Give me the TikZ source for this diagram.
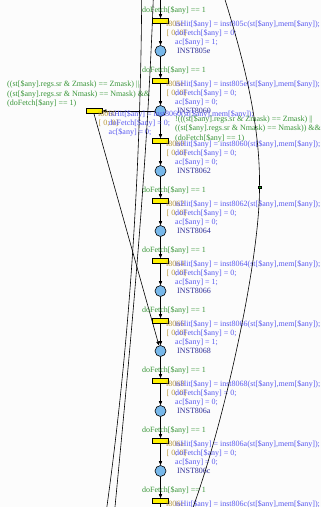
\documentclass[tikz,border=0pt]{standalone}
\usepackage{fontspec}
\setmainfont{Liberation Serif}
\usetikzlibrary{arrows.meta}
\definecolor{placefill}{HTML}{78B8EA}
\definecolor{guardgreen}{HTML}{3A963A}
\definecolor{actblue}{HTML}{5A5AF0}
\definecolor{placeblue}{HTML}{2E2E9A}
\definecolor{delaytan}{HTML}{B8983A}
\definecolor{paper}{HTML}{FCFCFC}
\begin{document}
\begin{tikzpicture}[x=1pt,y=-1pt,
  lbl/.style={inner sep=0pt, anchor=base west, font=\fontsize{8}{9.3}\selectfont},
  guard/.style={lbl, text=guardgreen},
  act/.style={lbl, text=actblue},
  delay/.style={lbl, text=delaytan},
  pname/.style={lbl, text=placeblue},
  place/.style={circle, draw, fill=placefill, minimum size=11pt, inner sep=0pt, line width=0.6pt},
  trans/.style={rectangle, draw, fill=yellow, minimum width=16pt, minimum height=5pt, inner sep=0pt, line width=0.6pt},
  arc/.style={line width=0.6pt, -{Triangle[length=4pt,width=3.2pt]}},
  wire/.style={line width=0.6pt},
  dot/.style={rectangle, draw, fill=green!70!black, minimum size=2.5pt, inner sep=0pt, line width=0.4pt}]
\useasboundingbox[fill=paper] (0,0) rectangle (321,507);

% main chain of transitions and places
\foreach \i in {0,...,8} \node[trans] (T\i) at (160.5,{21+60*\i}) {};
\foreach \i in {0,...,7} \node[place] (P\i) at (160.5,{51+60*\i}) {};
\node[trans] (TL) at (94,111) {};

% place names
\foreach \i/\n in {0/805e,1/8060,2/8062,3/8064,4/8066,5/8068,6/806a,7/806c}
  \node[pname] (N\i) at (177,{53.5+60*\i}) {INST\n};

% arcs along the chain
\coordinate (in0) at (160.5,0);
\coordinate (out8) at (160.5,512);
\draw[arc] (in0) -- (T0);
\foreach \i in {0,...,7} \draw[arc] (T\i) -- (P\i);
\foreach \i [evaluate=\i as \j using int(\i+1)] in {0,2,3,4,5,6,7} \draw[arc] (P\i) -- (T\j);
\draw[arc] (P1) -- (T2);
\draw[arc] (P1) -- (TL);
\draw[arc] (TL.south) -- (P5);
\draw[wire] (T8) -- (out8);

% plain transitions: delay, guard and actions
\foreach \i/\a/\c in {0/805c/1,1/805e/0,3/8062/0,4/8064/1,5/8066/1,6/8068/0,7/806a/0} {
  \node[delay] (d\i) at (166,{26+60*\i}) {i\a};
  \node[delay] (e\i) at (166.5,{35.3+60*\i}) {[ 0; 0]};
  \node[guard] (g\i) at (142,{12.5+60*\i}) {doFetch[\$any] == 1};
  \node[act] (a\i) at (175,{26+60*\i}) {isHit[\$any] = inst\a(st[\$any],mem[\$any]);};
  \node[act] (b\i) at (175,{35.3+60*\i}) {doFetch[\$any] = 0;};
  \node[act] (c\i) at (175,{44.6+60*\i}) {ac[\$any] = \c;};
}
\node[delay] (d8) at (166,506) {i806c};
\node[guard] (g8) at (142,492.5) {doFetch[\$any] == 1};
\node[act] (a8) at (175,506) {isHit[\$any] = inst806c(st[\$any],mem[\$any]);};

% branch taken when Z or N is set
\node[guard] (gL1) at (7,86.5) {((st[\$any].regs.sr \& Zmask) == Zmask) ||};
\node[guard] (gL2) at (7,96) {((st[\$any].regs.sr \& Nmask) == Nmask) \&\&};
\node[guard] (gL3) at (7,105.5) {(doFetch[\$any] == 1)};
\node[delay] (dL) at (98,116) {i8060};
\node[delay] (eL) at (98.5,125.3) {[ 0; 0]};
\node[act] (aL) at (108.5,116) {isHit[\$any] = inst8060(st[\$any],mem[\$any]);};
\node[act] (bL) at (108.5,125.3) {doFetch[\$any] = 0;};
\node[act] (cL) at (108.5,134.6) {ac[\$any] = 0;};

% branch taken otherwise
\node[guard] (g21) at (175,121) {!(((st[\$any].regs.sr \& Zmask) == Zmask) ||};
\node[guard] (g22) at (175,130.5) {((st[\$any].regs.sr \& Nmask) == Nmask)) \&\&};
\node[guard] (g23) at (175,140) {(doFetch[\$any] == 1)};
\node[delay] (d2) at (166,146) {i8060};
\node[delay] (e2) at (166.5,155.3) {[ 0; 0]};
\node[act] (a2) at (175,146) {isHit[\$any] = inst8060(st[\$any],mem[\$any]);};
\node[act] (b2) at (175,155.3) {doFetch[\$any] = 0;};
\node[act] (c2) at (175,164.6) {ac[\$any] = 0;};

% long arcs passing through
\coordinate (la0) at (141.7,-2);
\coordinate (la1) at (106.6,509);
\coordinate (lb0) at (153.3,-2);
\coordinate (lb1) at (114.8,509);
\draw[wire] (la0) .. controls (140.5,170) and (130,340) .. (la1);
\draw[wire] (lb0) .. controls (147,170) and (131,340) .. (lb1);

\coordinate (ra0) at (224.5,-2);
\coordinate (ra1) at (192.5,509);
\node[dot] (G) at (259.5,187) {};
\draw[wire] (ra0) .. controls (247,70) and (260,130) .. (G);
\draw[wire] (G) .. controls (259.5,260) and (225,420) .. (ra1);
\end{tikzpicture}
\end{document}
